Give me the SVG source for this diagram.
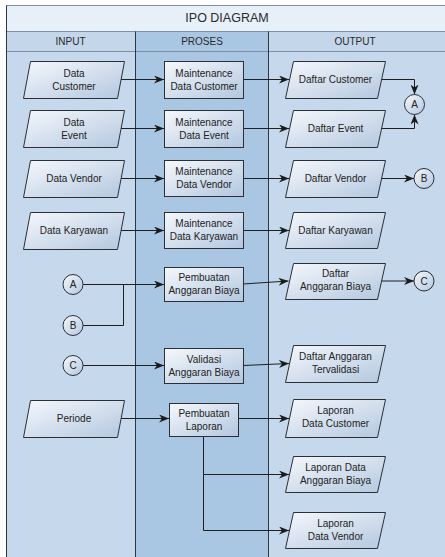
<svg xmlns="http://www.w3.org/2000/svg" width="445" height="557" viewBox="0 0 445 557">
  <defs>
    <linearGradient id="shapeFill" x1="0" y1="0" x2="1" y2="1">
      <stop offset="0" stop-color="#f5f8fc"/>
      <stop offset="1" stop-color="#b3c7df"/>
    </linearGradient>
    <marker id="arrow" viewBox="0 0 10 8" refX="10" refY="4" markerWidth="10" markerHeight="8" markerUnits="userSpaceOnUse" orient="auto">
      <path d="M0,0 L10,4 L0,8 L3,4 z" fill="#1a1a1a"/>
    </marker>
    <style>
      .shape { fill: url(#shapeFill); stroke: #2b2f36; stroke-width: 1; }
      .conn { fill: none; stroke: #1f1f1f; stroke-width: 1; }
      .arr { marker-end: url(#arrow); }
      .circ { fill: url(#shapeFill); stroke: #2b2f36; stroke-width: 1; }
      text { font-family: "Liberation Sans", Arial, sans-serif; font-size: 10px; fill: #222; text-anchor: middle; }
      .title { font-size: 12.5px; fill: #2a2a2a; }
      .hdr { font-size: 10px; fill: #2a2a2a; }
      .lane { stroke: #2e3640; stroke-width: 1; }
      .rule { stroke: #7d8fa5; stroke-width: 1; }
    </style>
  </defs>

  <!-- swimlane frame -->
  <g id="frame">
    <rect x="0" y="0" width="445" height="557" fill="#ffffff"/>
    <rect x="6.5" y="5.5" width="442" height="26" fill="#e7eff8"/>
    <rect x="6.5" y="31.5" width="129" height="530" fill="#c5d8ec"/>
    <rect x="135.5" y="31.5" width="133" height="530" fill="#a9c7e2"/>
    <rect x="268.5" y="31.5" width="180" height="530" fill="#c5d8ec"/>
    <rect x="6.5" y="31.5" width="129" height="20" fill="#c3d6ea"/>
    <rect x="268.5" y="31.5" width="180" height="20" fill="#c3d6ea"/>
    <line class="rule" x1="6.5" y1="5.5" x2="448" y2="5.5"/>
    <line class="rule" x1="6.5" y1="31.5" x2="448" y2="31.5"/>
    <line class="rule" x1="6.5" y1="51.5" x2="448" y2="51.5"/>
    <line class="lane" x1="6.5" y1="5.5" x2="6.5" y2="560"/>
    <line class="lane" x1="135.5" y1="31.5" x2="135.5" y2="560"/>
    <line class="lane" x1="268.5" y1="31.5" x2="268.5" y2="560"/>
    <text class="title" x="227" y="22">IPO DIAGRAM</text>
    <text class="hdr" x="70.5" y="45">INPUT</text>
    <text class="hdr" x="202" y="45">PROSES</text>
    <text class="hdr" x="355" y="45">OUTPUT</text>
  </g>

  <!-- connectors -->
  <g id="connectors">
    <line class="conn arr" x1="120.5" y1="79.5" x2="164" y2="79.5"/>
    <line class="conn arr" x1="243" y1="79.5" x2="289" y2="79.5"/>
    <line class="conn arr" x1="120.5" y1="128.5" x2="164" y2="128.5"/>
    <line class="conn arr" x1="243" y1="128.5" x2="289" y2="128.5"/>
    <line class="conn arr" x1="120.5" y1="178.5" x2="164" y2="178.5"/>
    <line class="conn arr" x1="243" y1="178.5" x2="289" y2="178.5"/>
    <line class="conn arr" x1="120.5" y1="230.5" x2="164" y2="230.5"/>
    <line class="conn arr" x1="243" y1="230.5" x2="289" y2="230.5"/>
    <polyline class="conn arr" points="381,79.5 414.5,79.5 414.5,94.5"/>
    <polyline class="conn arr" points="381,128.5 414.5,128.5 414.5,114.5"/>
    <line class="conn arr" x1="381" y1="178.5" x2="414" y2="178.5"/>
    <line class="conn arr" x1="83" y1="284.5" x2="164" y2="284.5"/>
    <polyline class="conn" points="83,325.5 123.5,325.5 123.5,284.5"/>
    <line class="conn arr" x1="243" y1="284" x2="288.5" y2="281"/>
    <line class="conn arr" x1="381" y1="281" x2="414" y2="281"/>
    <line class="conn arr" x1="83" y1="365.5" x2="164" y2="365.5"/>
    <line class="conn arr" x1="243" y1="365.5" x2="289" y2="363.5"/>
    <line class="conn arr" x1="120.5" y1="418.5" x2="169" y2="418.5"/>
    <line class="conn arr" x1="238" y1="418.5" x2="289" y2="418.5"/>
    <polyline class="conn arr" points="203.5,436 203.5,474.5 289,474.5"/>
    <polyline class="conn arr" points="203.5,474.5 203.5,530.5 289,530.5"/>
  </g>

  <!-- input column -->
  <g id="in-data-customer">
    <polygon class="shape" points="30.5,61.5 124.5,61.5 117.5,98.5 23.5,98.5"/>
    <text x="74" y="76.5">Data</text>
    <text x="74" y="89.5">Customer</text>
  </g>
  <g id="in-data-event">
    <polygon class="shape" points="30.5,110.5 124.5,110.5 117.5,147.5 23.5,147.5"/>
    <text x="74" y="125.5">Data</text>
    <text x="74" y="138.5">Event</text>
  </g>
  <g id="in-data-vendor">
    <polygon class="shape" points="30.5,160.5 124.5,160.5 117.5,197.5 23.5,197.5"/>
    <text x="74" y="182">Data Vendor</text>
  </g>
  <g id="in-data-karyawan">
    <polygon class="shape" points="30.5,212.5 124.5,212.5 117.5,249.5 23.5,249.5"/>
    <text x="74" y="234">Data Karyawan</text>
  </g>
  <g id="in-circle-a">
    <circle class="circ" cx="73" cy="284.5" r="10"/>
    <text x="73" y="288">A</text>
  </g>
  <g id="in-circle-b">
    <circle class="circ" cx="73" cy="325.5" r="10"/>
    <text x="73" y="329">B</text>
  </g>
  <g id="in-circle-c">
    <circle class="circ" cx="73" cy="365.5" r="10"/>
    <text x="73" y="369">C</text>
  </g>
  <g id="in-periode">
    <polygon class="shape" points="30.5,400.5 124.5,400.5 117.5,437.5 23.5,437.5"/>
    <text x="74" y="422">Periode</text>
  </g>

  <!-- process column -->
  <g id="p-maint-customer">
    <rect class="shape" x="164.5" y="61.5" width="79" height="37"/>
    <text x="204" y="76.5">Maintenance</text>
    <text x="204" y="89.5">Data Customer</text>
  </g>
  <g id="p-maint-event">
    <rect class="shape" x="164.5" y="110.5" width="79" height="37"/>
    <text x="204" y="125.5">Maintenance</text>
    <text x="204" y="138.5">Data Event</text>
  </g>
  <g id="p-maint-vendor">
    <rect class="shape" x="164.5" y="160.5" width="79" height="36"/>
    <text x="204" y="175">Maintenance</text>
    <text x="204" y="188">Data Vendor</text>
  </g>
  <g id="p-maint-karyawan">
    <rect class="shape" x="164.5" y="212.5" width="79" height="36"/>
    <text x="204" y="227">Maintenance</text>
    <text x="204" y="240">Data Karyawan</text>
  </g>
  <g id="p-anggaran">
    <rect class="shape" x="164.5" y="267.5" width="79" height="34"/>
    <text x="204" y="281">Pembuatan</text>
    <text x="204" y="294">Anggaran Biaya</text>
  </g>
  <g id="p-validasi">
    <rect class="shape" x="164.5" y="348.5" width="79" height="35"/>
    <text x="204" y="362.5">Validasi</text>
    <text x="204" y="375.5">Anggaran Biaya</text>
  </g>
  <g id="p-laporan">
    <rect class="shape" x="169.5" y="403.5" width="69" height="33"/>
    <text x="204" y="416.5">Pembuatan</text>
    <text x="204" y="429.5">Laporan</text>
  </g>

  <!-- output column -->
  <g id="out-daftar-customer">
    <polygon class="shape" points="293.5,61.5 385.5,61.5 377.5,98.5 285.5,98.5"/>
    <text x="335.5" y="83">Daftar Customer</text>
  </g>
  <g id="out-daftar-event">
    <polygon class="shape" points="293.5,110.5 385.5,110.5 377.5,147.5 285.5,147.5"/>
    <text x="335.5" y="132">Daftar Event</text>
  </g>
  <g id="out-daftar-vendor">
    <polygon class="shape" points="293.5,160.5 385.5,160.5 377.5,197.5 285.5,197.5"/>
    <text x="335.5" y="182">Daftar Vendor</text>
  </g>
  <g id="out-daftar-karyawan">
    <polygon class="shape" points="293.5,212.5 385.5,212.5 377.5,248.5 285.5,248.5"/>
    <text x="335.5" y="234">Daftar Karyawan</text>
  </g>
  <g id="out-daftar-anggaran">
    <polygon class="shape" points="293.5,263.5 385.5,263.5 377.5,299.5 285.5,299.5"/>
    <text x="335.5" y="277">Daftar</text>
    <text x="335.5" y="290">Anggaran Biaya</text>
  </g>
  <g id="out-anggaran-tervalidasi">
    <polygon class="shape" points="293.5,345.5 385.5,345.5 377.5,382.5 285.5,382.5"/>
    <text x="335.5" y="360">Daftar Anggaran</text>
    <text x="335.5" y="373">Tervalidasi</text>
  </g>
  <g id="out-laporan-customer">
    <polygon class="shape" points="293.5,399.5 385.5,399.5 377.5,437.5 285.5,437.5"/>
    <text x="335.5" y="414">Laporan</text>
    <text x="335.5" y="427">Data Customer</text>
  </g>
  <g id="out-laporan-anggaran">
    <polygon class="shape" points="293.5,456.5 385.5,456.5 377.5,492.5 285.5,492.5"/>
    <text x="335.5" y="470.5">Laporan Data</text>
    <text x="335.5" y="483.5">Anggaran Biaya</text>
  </g>
  <g id="out-laporan-vendor">
    <polygon class="shape" points="293.5,512.5 385.5,512.5 377.5,548.5 285.5,548.5"/>
    <text x="335.5" y="526.5">Laporan</text>
    <text x="335.5" y="539.5">Data Vendor</text>
  </g>
  <g id="out-circle-a">
    <circle class="circ" cx="414.5" cy="104.5" r="10"/>
    <text x="414.5" y="108">A</text>
  </g>
  <g id="out-circle-b">
    <circle class="circ" cx="424" cy="178.5" r="10"/>
    <text x="424" y="182">B</text>
  </g>
  <g id="out-circle-c">
    <circle class="circ" cx="424" cy="281" r="10"/>
    <text x="424" y="284.5">C</text>
  </g>
</svg>
